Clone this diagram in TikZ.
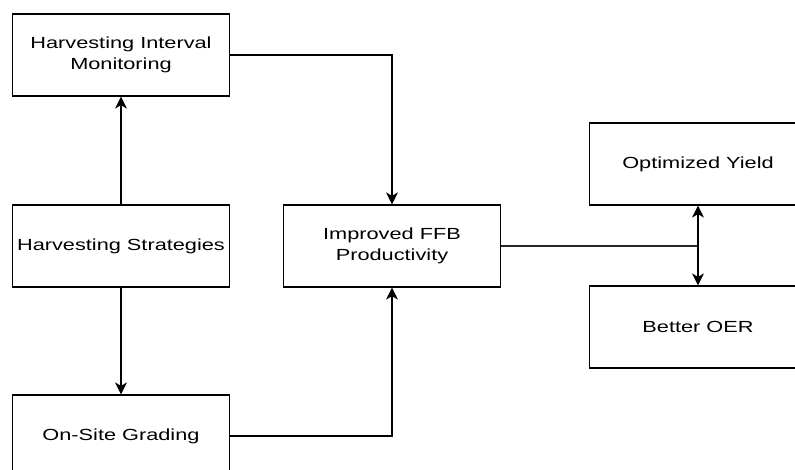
\documentclass[tikz,border=0pt]{standalone}
\usepackage{fontspec}
\setmainfont[FakeStretch=1.35]{Liberation Sans}
\usepackage{tikz}
\usetikzlibrary{arrows.meta, positioning}

\begin{document}
\begin{tikzpicture}[x=1pt, y=-1pt,
  blockbox/.style={draw, line width=1.2pt, minimum width=217pt, minimum height=82pt,
    align=center, inner sep=0pt, font=\fontsize{16.1}{21}\selectfont},
  flow/.style={line width=1.2pt, -{Stealth[length=12pt, width=12pt, inset=3.5pt]}}]
\useasboundingbox (0,0) rectangle (795,470);
\clip (0,0) rectangle (795,470);
\fill[white] (0,0) rectangle (795,470);
\node[blockbox] (monitor) at (121,55) {Harvesting Interval\\Monitoring};
\node[blockbox] (strategy) at (121,246) {Harvesting Strategies};
\node[blockbox] (grading) at (121,436) {On-Site Grading};
\node[blockbox] (ffb) at (392,246) {Improved FFB\\Productivity};
\node[blockbox] (yield) at (698,164) {Optimized Yield};
\node[blockbox] (oer) at (698,327) {Better OER};
\coordinate (split) at (698,246);
\draw[flow] (strategy) -- (monitor);
\draw[flow] (strategy) -- (grading);
\draw[flow] (monitor.east) -| (ffb.north);
\draw[flow] (grading.east) -| (ffb.south);
\draw[line width=1.1pt, black!85] (ffb.east) -- (split);
\draw[flow] (split) -- (yield.south);
\draw[flow] (split) -- (oer.north);
\end{tikzpicture}
\end{document}
